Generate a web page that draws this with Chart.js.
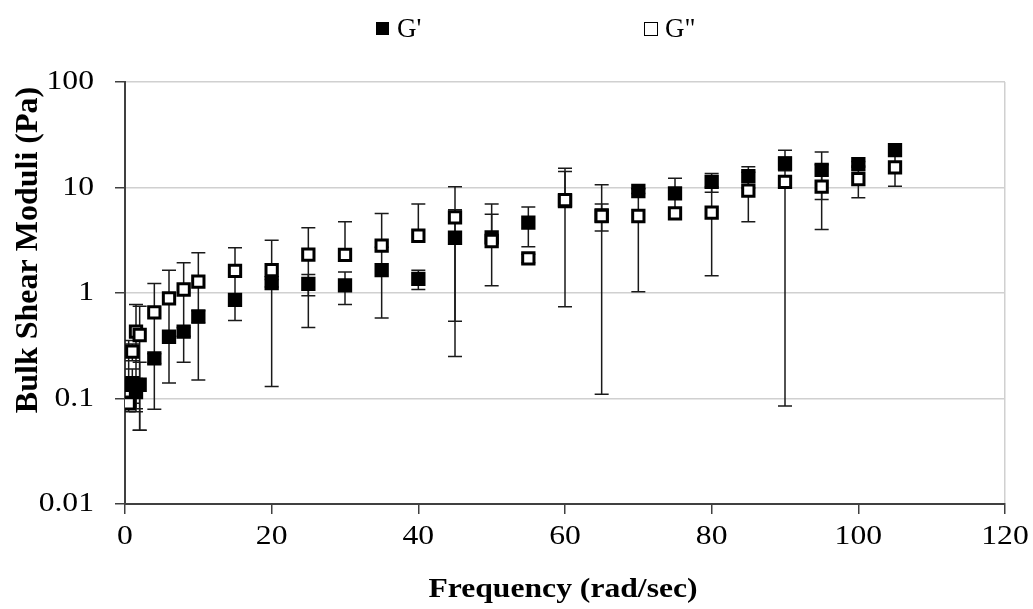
<!DOCTYPE html>
<html>
<head>
<meta charset="utf-8">
<script src="https://cdn.jsdelivr.net/npm/chart.js@4.4.1/dist/chart.umd.min.js"></script>
<style>
html,body{margin:0;padding:0;background:#fff;}
#wrap{width:1033px;height:609px;position:relative;}
canvas{display:block;}
</style>
</head>
<body>
<div id="wrap"><canvas id="c" width="1033" height="609"></canvas></div>
<script>
// ---- data ----
const frequency = [0.5, 1, 1.5, 2, 4, 6, 8, 10, 15, 20, 25, 30, 35, 40, 45, 50, 55, 60, 65, 70, 75, 80, 85, 90, 95, 100, 105];
const gPrime    = [0.135, 0.14, 0.115, 0.135, 0.24, 0.385, 0.43, 0.60, 0.86, 1.24, 1.22, 1.18, 1.65, 1.36, 3.34, 3.37, 4.64, 7.45, 5.43, 9.27, 8.81, 11.3, 12.8, 16.9, 14.7, 16.6, 22.6];
const gPrimeSD  = [0.22, 0.05, 0.04, 0.085, 0.025, 0.05, 0.04, 0.08, 0.08, 0.1, 0.28, 0.4, 1.07, 0.28, 2.8, 2.2, 1.9, 6.71, 1.55, 0.5, 3.4, 2.3, 2.9, 2.5, 7.0, 1.0, 1.0];
const gDouble   = [0.09, 0.278, 0.43, 0.40, 0.656, 0.89, 1.08, 1.28, 1.62, 1.65, 2.31, 2.30, 2.81, 3.49, 5.22, 3.11, 2.13, 7.6, 5.37, 5.37, 5.69, 5.78, 9.33, 11.3, 10.2, 12.0, 15.5];
const gDoubleSD = [0.015, 0.05, 0.35, 0.35, 0.577, 0.75, 0.86, 1.13, 1.07, 1.52, 1.84, 2.44, 2.85, 3.5, 4.97, 3.87, 0.2, 7.6, 5.26, 4.34, 0.5, 4.32, 4.6, 11.215, 6.2, 4.0, 5.2];
const xTicks = [0, 20, 40, 60, 80, 100, 120];
const yTicks = [0.01, 0.1, 1, 10, 100];
const yTickLabels = ['0.01', '0.1', '1', '10', '100'];
const seriesNames = ["G'", 'G"'];
const xTitle = 'Frequency (rad/sec)';
const yTitle = 'Bulk Shear Moduli (Pa)';

const SERIF = '"Liberation Serif", "Times New Roman", serif';

// horizontal text in the reference is slightly wide; stretch horizontal text
const stretchPlugin = {
  id: 'stretch',
  beforeDraw(chart) {
    const ctx = chart.ctx;
    if (!ctx.__patched) {
      const orig = ctx.fillText;
      ctx.fillText = function (t, x, y, mw) {
        const m = this.getTransform();
        const sx = this.__sx || 1;
        if (sx === 1 || Math.abs(m.b) > 1e-6 || Math.abs(m.c) > 1e-6) {
          return mw === undefined ? orig.call(this, t, x, y) : orig.call(this, t, x, y, mw);
        }
        this.save();
        this.translate(x, y);
        this.scale(sx, 1);
        orig.call(this, t, 0, 0);
        this.restore();
      };
      ctx.__patched = true;
    }
    ctx.__sx = 1.13;
  }
};

const errorBarPlugin = {
  id: 'errorBars',
  beforeDatasetsDraw(chart) {
    const { ctx, chartArea, scales } = chart;
    const xs = scales.x, ys = scales.y;
    ctx.save();
    ctx.beginPath();
    ctx.rect(chartArea.left, chartArea.top - 2, chartArea.right - chartArea.left, chartArea.bottom - chartArea.top + 4);
    ctx.clip();
    ctx.strokeStyle = '#1a1a1a';
    ctx.lineWidth = 1.5;
    chart.data.datasets.forEach((ds) => {
      const errs = ds.errorValues;
      ds.data.forEach((pt, j) => {
        const e = errs[j];
        const px = xs.getPixelForValue(pt.x);
        const yC = ys.getPixelForValue(pt.y);
        const yHi = ys.getPixelForValue(pt.y + e);
        const lo = pt.y - e;
        const yLo = lo > 0 ? ys.getPixelForValue(lo) : null;
        ctx.beginPath();
        ctx.moveTo(px, yHi);
        ctx.lineTo(px, yLo === null ? yC : yLo);
        ctx.moveTo(px - 7, yHi);
        ctx.lineTo(px + 7, yHi);
        if (yLo !== null) {
          ctx.moveTo(px - 7, yLo);
          ctx.lineTo(px + 7, yLo);
        }
        ctx.stroke();
      });
    });
    ctx.restore();
  }
};

const textPlugin = {
  id: 'texts',
  afterDraw(chart) {
    const ctx = chart.ctx;
    const ca = chart.chartArea;
    ctx.save();
    ctx.fillStyle = '#000';
    // legend
    ctx.__sx = 1.0;
    ctx.font = '27px ' + SERIF;
    ctx.textAlign = 'left';
    ctx.textBaseline = 'alphabetic';
    ctx.fillRect(376, 22, 13, 13);
    ctx.fillText(seriesNames[0], 397, 37);
    ctx.strokeStyle = '#000';
    ctx.lineWidth = 1;
    ctx.fillStyle = '#fff';
    ctx.fillRect(644.5, 22.5, 13, 13);
    ctx.strokeRect(644.5, 22.5, 13, 13);
    ctx.fillStyle = '#000';
    ctx.fillText(seriesNames[1], 665, 37);
    // x title
    ctx.__sx = 1.13;
    ctx.font = 'bold 28px ' + SERIF;
    ctx.textAlign = 'center';
    ctx.fillText(xTitle, (ca.left + ca.right) / 2 - 2, 597);
    // y title
    ctx.save();
    ctx.translate(37, 250);
    ctx.rotate(-Math.PI / 2);
    ctx.font = 'bold 32px ' + SERIF;
    ctx.textAlign = 'center';
    ctx.textBaseline = 'alphabetic';
    ctx.fillText(yTitle, 0, 0);
    ctx.restore();
    ctx.restore();
  }
};

const toPoints = (ys) => frequency.map((f, i) => ({ x: f, y: ys[i] }));

new Chart(document.getElementById('c'), {
  type: 'scatter',
  data: {
    datasets: [
      {
        label: seriesNames[0],
        data: toPoints(gPrime),
        errorValues: gPrimeSD,
        pointStyle: 'rect',
        pointRadius: 8,
        pointHoverRadius: 8,
        backgroundColor: '#000',
        borderColor: '#000',
        borderWidth: 3,
        showLine: false,
        order: 1
      },
      {
        label: seriesNames[1],
        data: toPoints(gDouble),
        errorValues: gDoubleSD,
        pointStyle: 'rect',
        pointRadius: 8,
        pointHoverRadius: 8,
        backgroundColor: '#fff',
        borderColor: '#000',
        borderWidth: 3,
        showLine: false,
        order: 0
      }
    ]
  },
  options: {
    responsive: false,
    animation: false,
    devicePixelRatio: 1,
    layout: { padding: { top: 82, right: 28, left: 0, bottom: 0 } },
    plugins: {
      legend: { display: false },
      tooltip: { enabled: false },
      title: { display: false }
    },
    scales: {
      x: {
        type: 'linear',
        min: 0,
        max: 120,
        afterBuildTicks(scale) { scale.ticks = xTicks.map(v => ({ value: v })); },
        afterFit(scale) { scale.height = 105; },
        ticks: {
          color: '#000',
          font: { family: SERIF, size: 28 },
          padding: 6,
          maxRotation: 0,
          autoSkip: false,
          callback: (v) => String(v)
        },
        grid: {
          drawOnChartArea: true,
          drawTicks: true,
          tickLength: 10,
          tickColor: '#404040',
          tickWidth: 1.5,
          lineWidth: 1.5,
          color: (c) => (c.tick && c.tick.value === 120 ? '#d0d0d0' : 'rgba(0,0,0,0)')
        },
        border: { display: true, color: '#404040', width: 2 }
      },
      y: {
        type: 'logarithmic',
        min: 0.01,
        max: 100,
        afterBuildTicks(scale) { scale.ticks = yTicks.map(v => ({ value: v })); },
        afterFit(scale) { scale.width = 125; },
        ticks: {
          color: '#000',
          font: { family: SERIF, size: 28 },
          padding: 21,
          autoSkip: false,
          callback: (v) => {
            const i = yTicks.findIndex(t => Math.abs(t - v) / t < 1e-6);
            return i >= 0 ? yTickLabels[i] : '';
          }
        },
        grid: {
          drawOnChartArea: true,
          drawTicks: true,
          tickLength: 10,
          tickColor: '#404040',
          tickWidth: 1.5,
          lineWidth: 1.5,
          color: '#d0d0d0'
        },
        border: { display: true, color: '#404040', width: 2 }
      }
    }
  },
  plugins: [stretchPlugin, errorBarPlugin, textPlugin]
});
</script>
</body>
</html>
